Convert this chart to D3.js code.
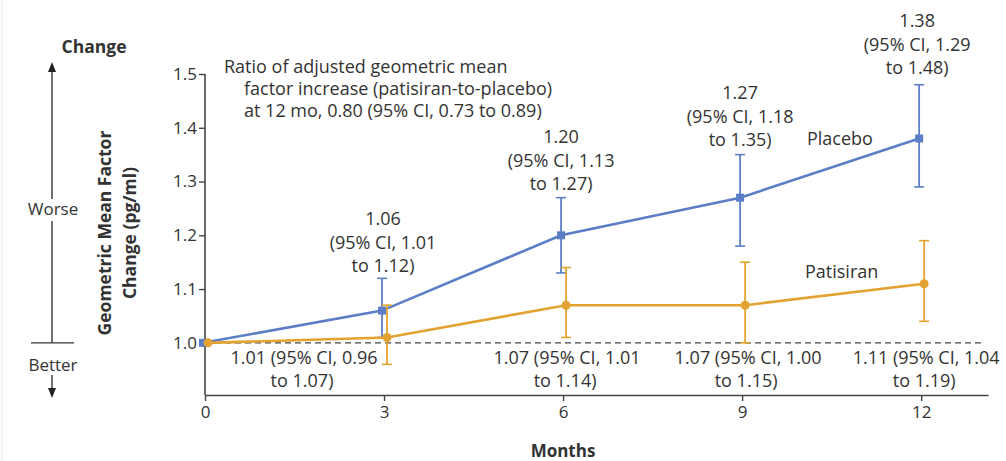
<!DOCTYPE html>
<html lang="en">
<head>
  <meta charset="UTF-8">
  <title>Geometric Mean Factor Change</title>
  <script src="https://d3js.org/d3.v7.min.js"></script>
  <style>
    body { margin: 0; background: #fff; }
    svg text { font-family: "Open Sans", sans-serif; fill: #333; }
  </style>
</head>
<body>
  <div id="chart"></div>
  <script>
    // data
    const months = [0, 3, 6, 9, 12];
    const placebo = [1.00, 1.06, 1.20, 1.27, 1.38];
    const placeboLo = [1.00, 1.01, 1.13, 1.18, 1.29];
    const placeboHi = [1.00, 1.12, 1.27, 1.35, 1.48];
    const patisiran = [1.00, 1.01, 1.07, 1.07, 1.11];
    const patisiranLo = [1.00, 0.96, 1.01, 1.00, 1.04];
    const patisiranHi = [1.00, 1.07, 1.14, 1.15, 1.19];
    const yTicks = [1.0, 1.1, 1.2, 1.3, 1.4, 1.5];
    const xTicks = [0, 3, 6, 9, 12];

    const width = 1006, height = 461;
    const blue = "#5b7ec6", orange = "#e3a330";
    const fs = "18px";

    const svg = d3.select("#chart").append("svg")
      .attr("width", width).attr("height", height);

    const x = d3.scaleLinear().domain([0, 13.12]).range([205, 988]);
    const y = d3.scaleLinear().domain([0.903, 1.5]).range([395, 74]);

    // faint frame edge on the left
    svg.append("line").attr("x1", 2).attr("x2", 2).attr("y1", 0).attr("y2", height)
      .attr("stroke", "#e4e4e4");

    // axes
    const yAxis = svg.append("g").attr("transform", `translate(${x(0)},0)`)
      .call(d3.axisLeft(y).tickValues(yTicks).tickFormat(d3.format(".1f")).tickSize(6).tickSizeOuter(0));
    const xAxis = svg.append("g").attr("transform", `translate(0,${y(0.903)})`)
      .call(d3.axisBottom(x).tickValues(xTicks).tickSize(6).tickSizeOuter(0));
    [yAxis, xAxis].forEach(g => {
      g.select(".domain").attr("stroke", "#444").attr("stroke-width", 1.6);
      g.selectAll(".tick line").attr("stroke", "#444").attr("stroke-width", 1.4);
      g.selectAll(".tick text").style("font-size", "17px").attr("fill", "#333");
    });
    yAxis.selectAll(".tick text").attr("x", -8);
    xAxis.selectAll(".tick text").attr("y", 11);
    // y axis continues to the x axis
    yAxis.select(".domain").attr("d", `M0,${y(1.5)}V${y(0.903)}`);

    // reference line at 1.0
    svg.append("line")
      .attr("x1", x(0)).attr("x2", x(13.05))
      .attr("y1", y(1)).attr("y2", y(1))
      .attr("stroke", "#444").attr("stroke-width", 1.3).attr("stroke-dasharray", "6,4");

    function series(vals, lo, hi, color, dx, marker) {
      const g = svg.append("g");
      const pts = months.map((m, i) => ({ m, v: vals[i], lo: lo[i], hi: hi[i] }));
      g.append("path").datum(pts)
        .attr("fill", "none").attr("stroke", color).attr("stroke-width", 2.6)
        .attr("d", d3.line().x(d => x(d.m) + dx).y(d => y(d.v)));
      const eb = g.selectAll(".eb").data(pts.slice(1)).enter().append("g");
      eb.append("line")
        .attr("x1", d => x(d.m) + dx).attr("x2", d => x(d.m) + dx)
        .attr("y1", d => y(d.lo)).attr("y2", d => y(d.hi))
        .attr("stroke", color).attr("stroke-width", 1.8);
      ["lo", "hi"].forEach(k => {
        eb.append("line")
          .attr("x1", d => x(d.m) + dx - 5).attr("x2", d => x(d.m) + dx + 5)
          .attr("y1", d => y(d[k])).attr("y2", d => y(d[k]))
          .attr("stroke", color).attr("stroke-width", 1.6);
      });
      if (marker === "square") {
        g.selectAll(".mk").data(pts).enter().append("rect")
          .attr("x", d => x(d.m) + dx - 4).attr("y", d => y(d.v) - 4)
          .attr("width", 8).attr("height", 8).attr("fill", color);
      } else {
        g.selectAll(".mk").data(pts).enter().append("circle")
          .attr("cx", d => x(d.m) + dx).attr("cy", d => y(d.v))
          .attr("r", 4.5).attr("fill", color);
      }
    }
    series(placebo, placeboLo, placeboHi, blue, -2, "square");
    series(patisiran, patisiranLo, patisiranHi, orange, 3, "circle");

    // placebo value labels above the bars
    const fmt = d3.format(".2f");
    const labelTop = [null, 219, 137, 93, 21];
    const topDx = [0, -1, -2, -2, -4];
    months.forEach((m, i) => {
      if (i === 0) return;
      const t = svg.append("text").attr("text-anchor", "middle").style("font-size", fs);
      const lines = [fmt(placebo[i]), `(95% CI, ${fmt(placeboLo[i])}`, `to ${fmt(placeboHi[i])})`];
      lines.forEach((s, j) => {
        t.append("tspan").attr("x", x(m) + topDx[i]).attr("y", labelTop[i] + 6 + j * 23.5).text(s);
      });
    });

    // patisiran value labels below the reference line
    const botDx = [0, -80, 4, 6, 5];
    months.forEach((m, i) => {
      if (i === 0) return;
      const t = svg.append("text").attr("text-anchor", "middle").style("font-size", fs);
      t.append("tspan").attr("x", x(m) + botDx[i]).attr("y", 364)
        .text(`${fmt(patisiran[i])} (95% CI, ${fmt(patisiranLo[i])}`);
      t.append("tspan").attr("x", x(m) + botDx[i] - 2).attr("y", 387)
        .text(`to ${fmt(patisiranHi[i])})`);
    });

    // series names
    svg.append("text").attr("x", 807).attr("y", 145).style("font-size", fs).text("Placebo");
    svg.append("text").attr("x", 805).attr("y", 278).style("font-size", fs).text("Patisiran");

    // ratio note
    const note = svg.append("text").style("font-size", fs);
    note.append("tspan").attr("x", 224).attr("y", 73).text("Ratio of adjusted geometric mean");
    note.append("tspan").attr("x", 244).attr("y", 95).text("factor increase (patisiran-to-placebo)");
    note.append("tspan").attr("x", 244).attr("y", 117).text("at 12 mo, 0.80 (95% CI, 0.73 to 0.89)");

    // axis titles
    svg.append("text").attr("x", 563).attr("y", 457).attr("text-anchor", "middle")
      .style("font-size", "17px").style("font-weight", "bold").attr("fill", "#222").text("Months");
    const yt = svg.append("text").attr("transform", "translate(0,233) rotate(-90)")
      .attr("text-anchor", "middle").style("font-size", "17.5px").style("font-weight", "bold").attr("fill", "#222");
    yt.append("tspan").attr("x", 0).attr("y", 111).text("Geometric Mean Factor");
    yt.append("tspan").attr("x", 0).attr("y", 136).text("Change (pg/ml)");

    // change direction guide
    const guide = svg.append("g");
    guide.append("text").attr("x", 94).attr("y", 53).attr("text-anchor", "middle")
      .style("font-size", "17.5px").style("font-weight", "bold").attr("fill", "#222").text("Change");
    guide.append("line").attr("x1", 52).attr("x2", 52).attr("y1", 70).attr("y2", 199)
      .attr("stroke", "#333").attr("stroke-width", 1.4);
    guide.append("line").attr("x1", 52).attr("x2", 52).attr("y1", 221).attr("y2", y(1))
      .attr("stroke", "#333").attr("stroke-width", 1.4);
    guide.append("line").attr("x1", 31).attr("x2", 74).attr("y1", y(1)).attr("y2", y(1))
      .attr("stroke", "#333").attr("stroke-width", 1.4);
    guide.append("line").attr("x1", 52).attr("x2", 52).attr("y1", 375).attr("y2", 390)
      .attr("stroke", "#333").attr("stroke-width", 1.4);
    guide.append("path").attr("d", "M48,72 L52,62 L56,72 Z").attr("fill", "#222");
    guide.append("path").attr("d", "M48,388 L52,398 L56,388 Z").attr("fill", "#222");
    guide.append("text").attr("x", 53).attr("y", 215).attr("text-anchor", "middle")
      .style("font-size", "17px").text("Worse");
    guide.append("text").attr("x", 53).attr("y", 371).attr("text-anchor", "middle")
      .style("font-size", "17px").text("Better");
  </script>
</body>
</html>
